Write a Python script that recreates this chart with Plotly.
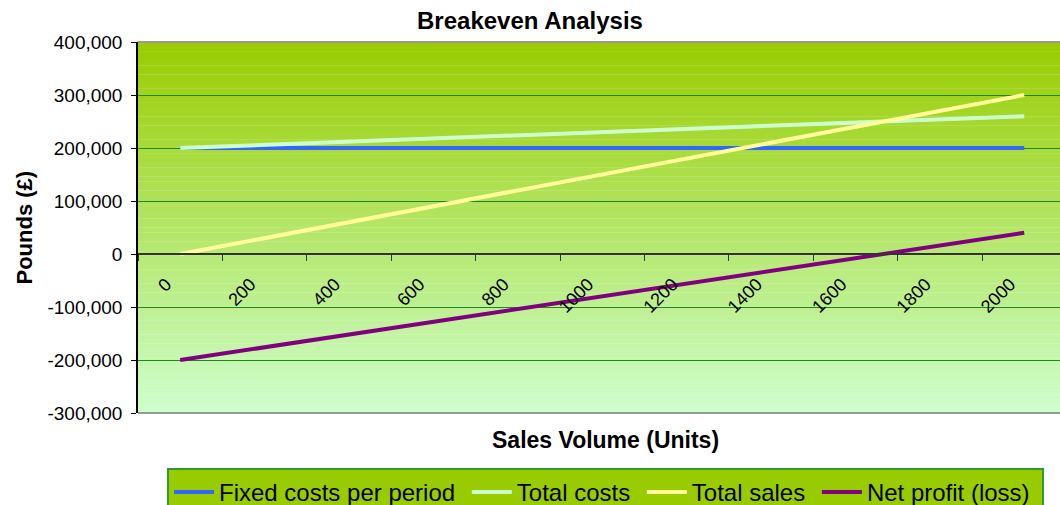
import plotly.graph_objects as go

# ---- data ----
units = ["0", "200", "400", "600", "800", "1000", "1200", "1400", "1600", "1800", "2000"]
fixed_costs = [200000, 200000, 200000, 200000, 200000, 200000, 200000, 200000, 200000, 200000, 200000]
total_costs = [200000, 206000, 212000, 218000, 224000, 230000, 236000, 242000, 248000, 254000, 260000]
total_sales = [0, 30000, 60000, 90000, 120000, 150000, 180000, 210000, 240000, 270000, 300000]
net_profit = [-200000, -176000, -152000, -128000, -104000, -80000, -56000, -32000, -8000, 16000, 40000]
y_tick_vals = [400000, 300000, 200000, 100000, 0, -100000, -200000, -300000]
y_tick_labels = ["400,000", "300,000", "200,000", "100,000", "0", "-100,000", "-200,000", "-300,000"]
series_names = ["Fixed costs per period", "Total costs", "Total sales", "Net profit (loss)"]

FONT = "Arial, Liberation Sans, sans-serif"
W, H = 1060, 505
ML, MR, MT, MB = 138, 0, 42, 92

fig = go.Figure()
series = [
    (series_names[0], fixed_costs, "#3366FF"),
    (series_names[1], total_costs, "#CCFFCC"),
    (series_names[2], total_sales, "#FFFF99"),
    (series_names[3], net_profit, "#800080"),
]
for name, vals, col in series:
    fig.add_trace(go.Scatter(x=units, y=vals, name=name + "\u00a0", mode="lines",
                             line=dict(color=col, width=4)))

# gradient background bands (style only)
shapes = []
n = 80
c0 = (153, 204, 0)
c1 = (206, 255, 206)
for i in range(n):
    t = (i + 0.5) / n
    r = round(c0[0] + (c1[0] - c0[0]) * t)
    g = round(c0[1] + (c1[1] - c0[1]) * t)
    b = round(c0[2] + (c1[2] - c0[2]) * t)
    shapes.append(dict(type="rect", xref="paper", yref="paper",
                       x0=0, x1=1, y0=1 - (i + 1) / n - 0.001, y1=1 - i / n,
                       fillcolor=f"rgb({r},{g},{b})", line=dict(width=0), layer="below"))
# plot area border top/bottom
shapes.append(dict(type="line", xref="paper", yref="paper", x0=0, x1=1, y0=1, y1=1,
                   line=dict(color="#999999", width=2), layer="above"))
shapes.append(dict(type="line", xref="paper", yref="paper", x0=0, x1=1, y0=0, y1=0,
                   line=dict(color="#999999", width=2), layer="above"))

plot_h = H - MT - MB
plot_w = W - ML - MR
fig.update_layout(
    width=W, height=H,
    margin=dict(l=ML, r=MR, t=MT, b=MB, pad=0, autoexpand=False),
    paper_bgcolor="white",
    plot_bgcolor="rgba(0,0,0,0)",
    font=dict(family=FONT, color="black"),
    title=dict(text="<b>Breakeven Analysis</b>", x=0.5, xanchor="center",
               y=1 - 21 / H, yanchor="middle", yref="container",
               font=dict(size=24, family=FONT, color="black")),
    showlegend=True,
    legend=dict(orientation="h", x=(167 - ML) / plot_w, xanchor="left",
                y=-(468 - (H - MB)) / plot_h, yanchor="top",
                bgcolor="#99CC00", bordercolor="#339933", borderwidth=2,
                font=dict(size=24, family=FONT, color="black"),
                itemwidth=40, tracegroupgap=0),
    shapes=shapes,
    xaxis=dict(type="category", range=[-0.5, 10.424], anchor="free",
               position=3 / 7, showline=True, linecolor="#333333", linewidth=1.5,
               ticks="outside", ticklen=6, tickcolor="#333333", tickson="boundaries",
               tickangle=-45, tickfont=dict(size=18, family=FONT, color="black"),
               ticklabelstandoff=12, ticklabelshift=-14,
               showgrid=False, zeroline=False),
    yaxis=dict(range=[-300000, 400000], tickvals=y_tick_vals, ticktext=y_tick_labels,
               showline=True, linecolor="black", linewidth=1.5,
               ticks="outside", ticklen=5, tickcolor="black",
               tickfont=dict(size=19, family=FONT, color="black"),
               ticklabelstandoff=5,
               showgrid=True, gridcolor="#1a8a1a", gridwidth=1, zeroline=False),
    annotations=[
        dict(text="<b>Pounds (£)</b>", xref="paper", yref="paper",
             x=-(ML - 24) / plot_w, y=0.5, xanchor="center", yanchor="middle",
             textangle=-90, showarrow=False, font=dict(size=22, family=FONT, color="black")),
        dict(text="<b>Sales Volume (Units)</b>", xref="paper", yref="paper",
             x=(605 - ML) / plot_w, y=-(440 - (H - MB)) / plot_h,
             xanchor="center", yanchor="middle", showarrow=False,
             font=dict(size=23, family=FONT, color="black")),
    ],
)

fig.write_html("out.html", config={"displayModeBar": False},
               post_script="document.body.style.margin='0';document.body.style.overflow='hidden';")
